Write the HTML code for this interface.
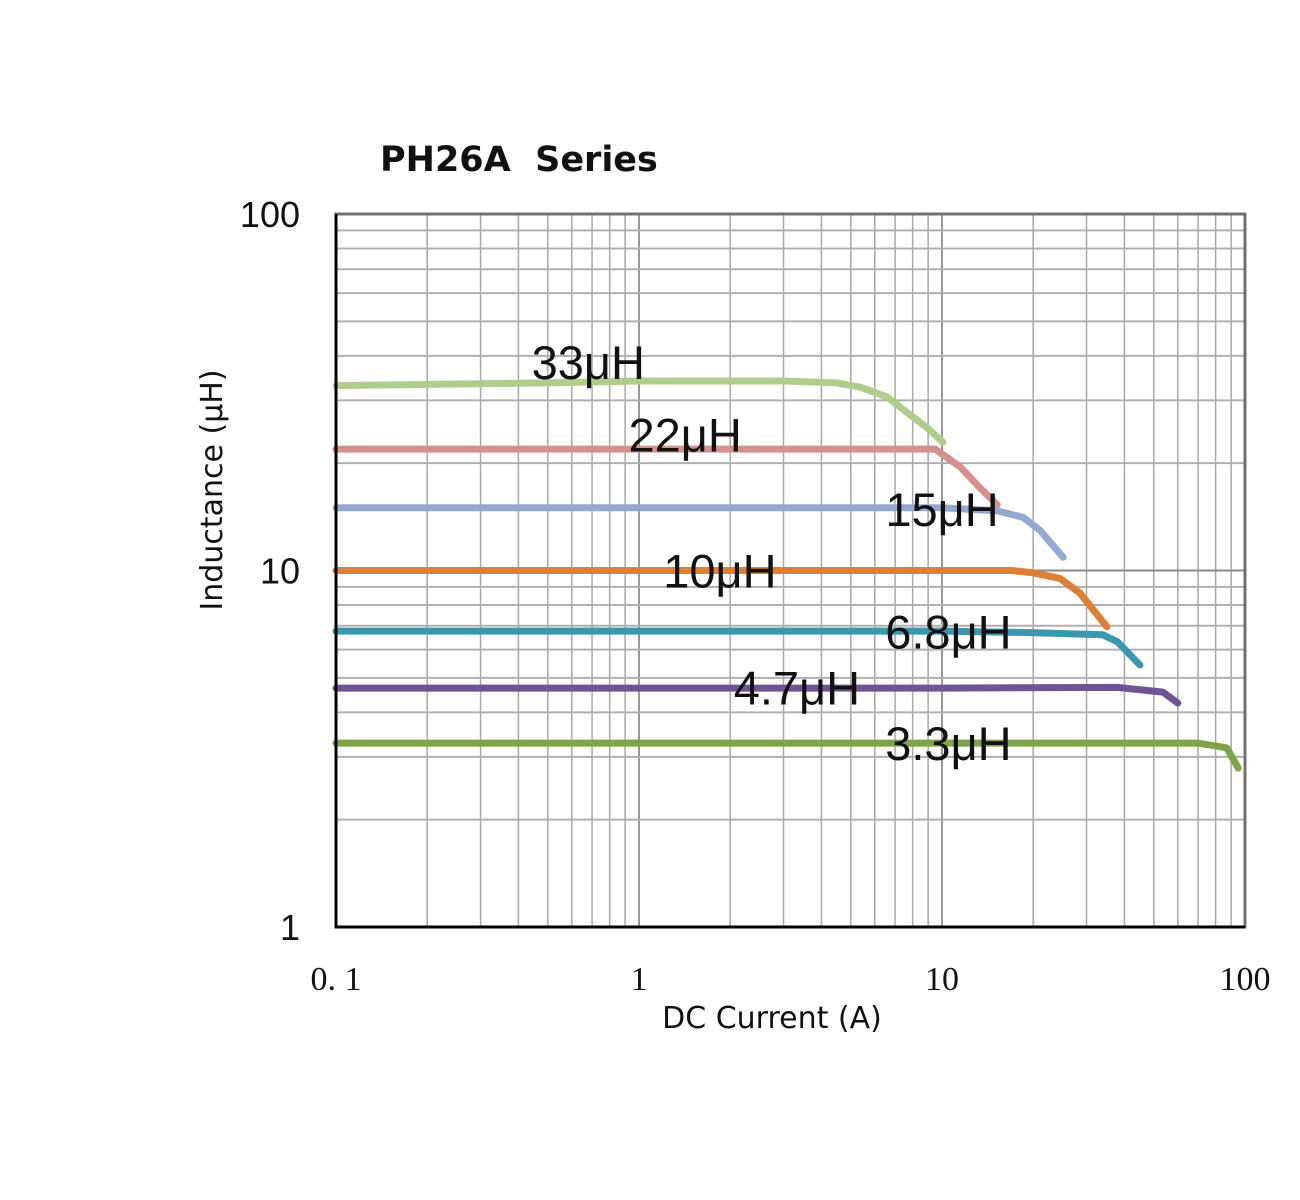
<!DOCTYPE html>
<html><head><meta charset="utf-8"><style>
html,body{margin:0;padding:0;background:#fff;}
svg{display:block;}
</style></head><body>
<svg id="chart" width="1300" height="1200" viewBox="0 0 1300 1200" xmlns="http://www.w3.org/2000/svg">
<rect width="1300" height="1200" fill="#fff"/>
<text x="380" y="171" font-family="'DejaVu Sans','Liberation Sans',sans-serif" font-weight="bold" font-size="35" fill="#111" style="white-space:pre">PH26A  Series</text>
<g id="grid"></g>
<g id="series"></g>
<g id="labels"></g>
<g id="axes"></g>
<text x="772" y="1028" text-anchor="middle" font-family="'DejaVu Sans','Liberation Sans',sans-serif" font-size="30" fill="#111">DC Current (A)</text>
<text transform="translate(222,490) rotate(-90)" text-anchor="middle" font-family="'DejaVu Sans','Liberation Sans',sans-serif" font-size="30" fill="#111">Inductance (μH)</text>
</svg>
<script>
const xTicks = [0.1, 1, 10, 100];
const xTickLabels = ["0. 1", "1", "10", "100"];
const yTicks = [1, 10, 100];
const yTickLabels = ["1", "10", "100"];
const seriesNames = ["33μH","22μH","15μH","10μH","6.8μH","4.7μH","3.3μH"];
const seriesColors = ["#b0cd8e","#d69090","#93a9d0","#dd8035","#3b97ad","#6e5494","#7ea447"];
const s33x = [0.1,0.5,1,3,4.5,5.36,6.58,8.0,9.0,10.07];
const s33y = [33.0,33.6,34.0,34.0,33.6,32.7,30.7,27.0,25.0,22.9];
const s22x = [0.1,1,5,9.5,11.5,13.3,15.2];
const s22y = [21.9,21.9,21.9,21.9,19.5,17.1,15.3];
const s15x = [0.1,1,10,15.2,18.5,21.0,25.1];
const s15y = [15.0,15.0,15.0,14.7,14.1,13.0,10.9];
const s10x = [0.1,1,10,17,20,24.5,28.5,35];
const s10y = [10.0,10.0,10.0,10.0,9.85,9.5,8.65,6.95];
const s68x = [0.1,1,10,19,34,38,45];
const s68y = [6.76,6.76,6.76,6.7,6.6,6.3,5.43];
const s47x = [0.1,1,10,37.8,53.6,60];
const s47y = [4.68,4.68,4.68,4.7,4.56,4.25];
const s33bx = [0.1,1,10,69.5,80,87,95];
const s33by = [3.28,3.28,3.28,3.28,3.22,3.18,2.79];
const seriesX = [s33x,s22x,s15x,s10x,s68x,s47x,s33bx];
const seriesY = [s33y,s22y,s15y,s10y,s68y,s47y,s33by];
const labelX = [0.68,1.42,10,1.85,10.5,3.32,10.5];
const labelY = [38.5,24.1,14.9,10.0,6.75,4.7,3.28];

const X0=336,X1=1245,Y0=927,Y1=214;
function xs(v){return X0+(Math.log10(v)+1)/3*(X1-X0);}
function ys(v){return Y0-Math.log10(v)/2*(Y0-Y1);}
const NS="http://www.w3.org/2000/svg";
function mk(tag,attrs,parent){const e=document.createElementNS(NS,tag);for(const k in attrs)e.setAttribute(k,attrs[k]);parent.appendChild(e);return e;}
const grid=document.getElementById('grid');
for(let d=-1;d<2;d++){for(let m=1;m<=10;m++){const v=m*Math.pow(10,d);const l=mk('line',{x1:xs(v),x2:xs(v),y1:Y1,y2:Y0,stroke:m==1||m==10?'#8a8a8a':'#a8a8a8','stroke-width':1.5},grid);

}}
for(let d=0;d<2;d++){for(let m=1;m<=10;m++){const v=m*Math.pow(10,d);const l=mk('line',{x1:X0,x2:X1,y1:ys(v),y2:ys(v),stroke:m==1||m==10?'#8a8a8a':'#b0b0b0','stroke-width':2},grid);

}}
const axes=document.getElementById('axes');
const fr=mk('rect',{x:X0,y:Y1,width:X1-X0,height:Y0-Y1,fill:'none',stroke:'#707070','stroke-width':3},axes);


const la=mk('line',{x1:X0,x2:X0,y1:Y1,y2:Y0+1,stroke:'#000','stroke-width':3},axes);


const ba=mk('line',{x1:X0-1,x2:X1,y1:Y0,y2:Y0,stroke:'#000','stroke-width':3},axes);


xTicks.forEach((v,i)=>{const t=mk('text',{x:xs(v),y:990,'text-anchor':'middle','font-family':"'Liberation Serif',serif",'font-size':34,fill:'#111'},axes);t.textContent=xTickLabels[i];

});
yTicks.forEach((v,i)=>{const t=mk('text',{x:300,y:ys(v)+13,'text-anchor':'end','font-family':"'Liberation Sans',sans-serif",'font-size':36,fill:'#111'},axes);t.textContent=yTickLabels[i];

});
const sg=document.getElementById('series');
seriesX.forEach((xa,i)=>{const pts=xa.map((x,j)=>xs(x).toFixed(1)+','+ys(seriesY[i][j]).toFixed(1)).join(' ');
const p=mk('polyline',{points:pts,fill:'none',stroke:seriesColors[i],'stroke-width':7,'stroke-linecap':'round','stroke-linejoin':'round'},sg);

});
const lg=document.getElementById('labels');
seriesNames.forEach((n,i)=>{const t=mk('text',{x:xs(labelX[i]),y:ys(labelY[i])+17,'text-anchor':'middle','font-family':"'Liberation Sans',sans-serif",'font-size':47,fill:'#111'},lg);t.textContent=n;

});
</script>
</body></html>
